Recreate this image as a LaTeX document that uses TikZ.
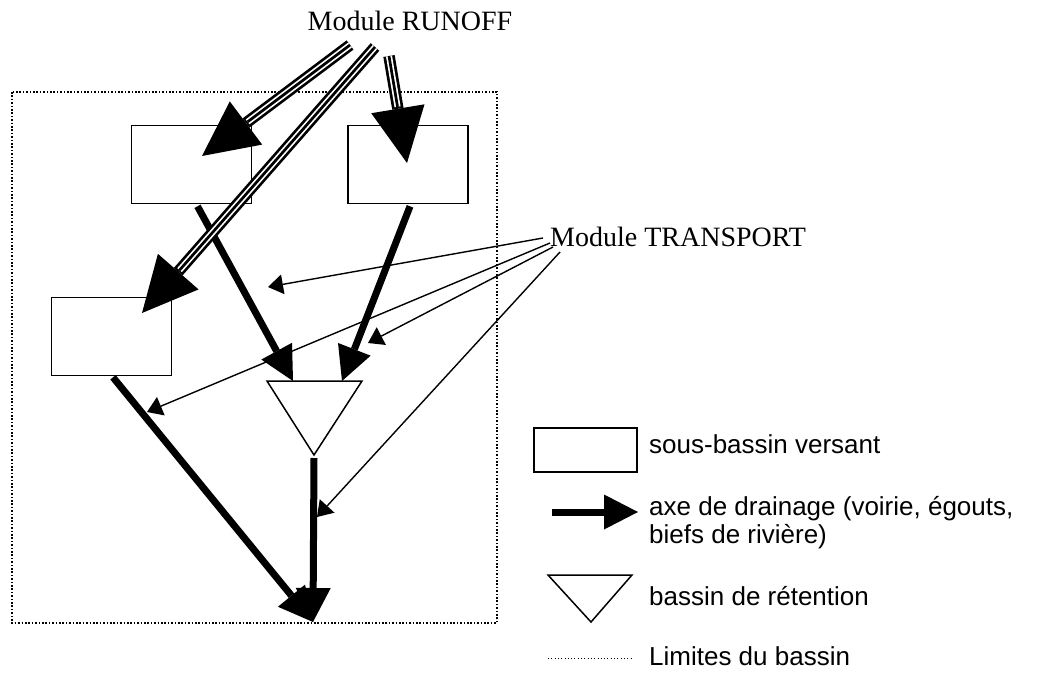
\documentclass[tikz,border=0pt]{standalone}
\usepackage{fontspec}
\setmainfont{Liberation Serif}
\setsansfont{Liberation Sans}
\usetikzlibrary{arrows.meta}

\begin{document}
\begin{tikzpicture}[
        x=1pt, y=-1pt,
        every node/.style={inner sep=0pt},
        module/.style={font=\fontsize{28}{32}\selectfont},
        legend/.style={font=\sffamily\fontsize{26}{28}\selectfont, align=left, anchor=base west},
        subbasin/.style={draw, line width=1.6pt, minimum width=120pt, minimum height=78pt},
        basin/.style={draw, line width=1.5pt, line join=miter},
        drain/.style={line width=7pt, -{Triangle[length=34pt, width=35pt, line width=0pt]}},
        runoff/.style={
            line width=11.5pt,
            -{Triangle[length=55pt, width=54pt, line width=0pt]},
            postaction={draw, -, white, line width=6.1pt, shorten >=57pt},
            postaction={draw, -, black, line width=2.7pt, shorten >=57pt}
        },
        transport/.style={line width=1.4pt, -{Triangle[length=15pt, width=20pt, line width=0pt]}},
        limit/.style={line width=1.6pt, dash pattern=on 1.6pt off 1.8pt}
    ]
        \useasboundingbox (0,0) rectangle (1037,675);

        % Basin limits
        \draw[limit] (12,92) rectangle (497,623);

        % Modules
        \node[module, anchor=base] (runoff) at (410,30) {Module RUNOFF};
        \node[module, anchor=base west] (transport) at (550,246) {Module TRANSPORT};

        % Sub-basins
        \node[subbasin] (sbA) at (191.5,164.5) {};
        \node[subbasin] (sbB) at (408,164.5) {};
        \node[subbasin] (sbC) at (111.5,336.5) {};

        % Retention basin
        \coordinate (tri-l) at (267,381);
        \coordinate (tri-r) at (362,381);
        \coordinate (tri-b) at (314,455);
        \draw[basin] (tri-l) -- (tri-r) -- (tri-b) -- cycle;
        \coordinate (tri-in1) at (293,381);
        \coordinate (tri-in2) at (342,381);
        \coordinate (outlet) at (313,622);

        % Drainage axes
        \draw[drain] ([xshift=6pt,yshift=-2pt]sbA.south) -- (tri-in1);
        \draw[drain] ([xshift=2pt,yshift=-2pt]sbB.south) -- (tri-in2);
        \draw[drain] ([xshift=1.5pt,yshift=-1pt]sbC.south) -- (outlet);
        \draw[drain] ([yshift=-3pt]tri-b) -- (outlet);

        % Runoff inputs
        \coordinate (ro1) at ([xshift=-60pt,yshift=-15pt]runoff.base);
        \coordinate (ro2) at ([xshift=-35pt,yshift=-17pt]runoff.base);
        \coordinate (ro3) at ([xshift=-21pt,yshift=-26pt]runoff.base);
        \draw[runoff] (ro1) -- ([xshift=10.5pt,yshift=8.5pt]sbA.center);
        \draw[runoff] (ro2) -- ([xshift=30.5pt,yshift=23.5pt]sbC.center);
        \draw[runoff] (ro3) -- ([xshift=-1pt,yshift=1.5pt]sbB.center);

        % Transport links
        \coordinate (tr1) at ([xshift=-7pt,yshift=8pt]transport.base west);
        \coordinate (tr2) at ([yshift=3pt]transport.base west);
        \coordinate (tr3) at ([xshift=3pt,yshift=-1pt]transport.base west);
        \coordinate (tr4) at ([xshift=10pt,yshift=-6pt]transport.base west);
        \coordinate (tg1) at (268,287);
        \coordinate (tg2) at (147,412);
        \coordinate (tg3) at (368,343);
        \coordinate (tg4) at (317,517);
        \draw[transport] (tr1) -- (tg1);
        \draw[transport] (tr2) -- (tg2);
        \draw[transport] (tr3) -- (tg3);
        \draw[transport] (tr4) -- (tg4);

        % Legend
        \node[subbasin, minimum width=103pt, minimum height=44pt] (lgbox) at (585.5,450) {};
        \node[legend] (lgboxtext) at (649,453) {sous-bassin versant};

        \coordinate (lgdrain-s) at (552,512);
        \coordinate (lgdrain-e) at (638,512);
        \draw[drain] (lgdrain-s) -- (lgdrain-e);
        % base of a two-line node is the last line
        \node[legend] (lgdraintext) at (649,543) {axe de drainage (voirie, égouts,\\biefs de rivière)};

        \coordinate (lgtri-l) at (548,575);
        \coordinate (lgtri-r) at (632,575);
        \coordinate (lgtri-b) at (591,622);
        \draw[basin] (lgtri-l) -- (lgtri-r) -- (lgtri-b) -- cycle;
        \node[legend] (lgtritext) at (649,605) {bassin de rétention};

        \coordinate (lglim-s) at (548,658);
        \coordinate (lglim-e) at (632,658);
        \draw[line width=1pt, dash pattern=on 1pt off 2.3pt] (lglim-s) -- (lglim-e);
        \node[legend] (lglimtext) at (649,665) {Limites du bassin};
\end{tikzpicture}
\end{document}
